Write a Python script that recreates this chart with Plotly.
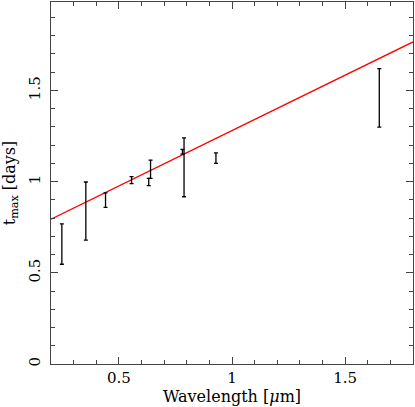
import plotly.graph_objects as go

# measured points: wavelength [um], lower and upper end of the t_max range [days]
wavelength = [0.248, 0.354, 0.441, 0.556, 0.632, 0.640, 0.781, 0.788, 0.929, 1.651]
t_low = [0.547, 0.679, 0.859, 0.989, 0.978, 1.018, 1.151, 0.917, 1.100, 1.299]
t_high = [0.768, 0.998, 0.938, 1.027, 1.018, 1.118, 1.177, 1.240, 1.158, 1.620]

# linear fit
fit_x = [0.2, 1.8]
fit_y = [0.794, 1.766]

t_mid = [(lo + hi) / 2 for lo, hi in zip(t_low, t_high)]
t_err = [(hi - lo) / 2 for lo, hi in zip(t_low, t_high)]

font = "DejaVu Serif"
axcol = "#444444"
fsize = 15

fig = go.Figure()
fig.add_trace(go.Scatter(
    x=fit_x, y=fit_y, mode="lines",
    line=dict(color="#ff0000", width=1.3), showlegend=False,
))
fig.add_trace(go.Scatter(
    x=wavelength, y=t_mid, mode="markers",
    marker=dict(size=1, color="rgba(0,0,0,0)"),
    error_y=dict(type="data", array=t_err, visible=True,
                 color="black", thickness=1.3, width=2),
    showlegend=False,
))

axis_common = dict(
    showgrid=False, zeroline=False, showline=True, linecolor=axcol, linewidth=1.3,
    mirror="allticks", ticks="inside", ticklen=7, tickwidth=1.2, tickcolor=axcol,
    tickfont=dict(family=font, size=fsize, color="black"),
    minor=dict(ticks="inside", ticklen=4, tickwidth=1.2, tickcolor=axcol, dtick=0.1),
    automargin=False,
)

fig.update_xaxes(
    range=[0.2, 1.8], tickvals=[0.5, 1, 1.5], ticktext=["0.5", "1", "1.5"],
    title=dict(text="Wavelength [<i>μ</i>m]", font=dict(family=font, size=16, color="black"),
               standoff=0),
    **axis_common,
)
fig.update_yaxes(
    range=[0, 1.985], tickvals=[0, 0.5, 1, 1.5], ticktext=["0", "0.5", "1", "1.5"],
    tickangle=-90, ticklabelstandoff=4,
    title=dict(text="t<sub>max</sub> [days]", font=dict(family=font, size=16, color="black"),
               standoff=8),
    **axis_common,
)

fig.update_layout(
    width=415, height=407,
    margin=dict(l=51, r=2, t=2, b=43),
    plot_bgcolor="white", paper_bgcolor="white",
)

# page has a default body margin, drop it so the figure fills the window
fig.write_html("out.html", config={"displayModeBar": False},
               post_script="document.body.style.margin='0';")
